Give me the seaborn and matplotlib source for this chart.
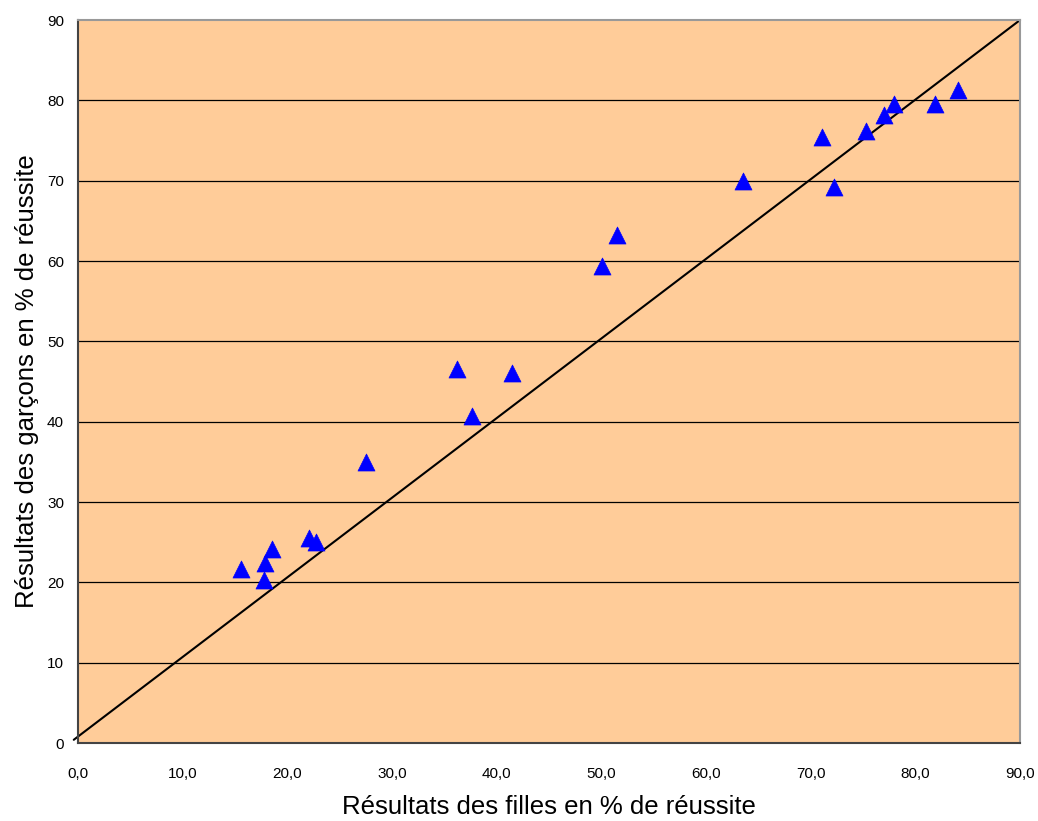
import matplotlib
matplotlib.use("Agg")
import matplotlib.pyplot as plt
import seaborn as sns
import pandas as pd

filles = [15.6, 17.9, 17.8, 18.5, 22.1, 22.7, 27.5, 36.2, 37.6, 41.5,
          50.1, 51.5, 63.5, 71.1, 72.2, 75.3, 77.0, 78.0, 81.9, 84.1]
garcons = [21.7, 22.4, 20.3, 24.2, 25.5, 25.0, 35.0, 46.6, 40.7, 46.1,
           59.4, 63.3, 70.0, 75.5, 69.2, 76.2, 78.2, 79.6, 79.6, 81.3]
x_ticks = [0, 10, 20, 30, 40, 50, 60, 70, 80, 90]
y_ticks = [0, 10, 20, 30, 40, 50, 60, 70, 80, 90]
diag_x = [-0.4, 90]
diag_y = [0.4, 90]

df = pd.DataFrame({"filles": filles, "garcons": garcons})

sns.set_style("white")
plt.rcParams["font.family"] = ["Liberation Sans", "DejaVu Sans"]

fig = plt.figure(figsize=(10.38, 8.21), dpi=100)
ax = fig.add_axes([0.0751, 0.095, 0.9076, 0.8806])
ax.set_facecolor("#FFCC99")

for yv in y_ticks[1:-1]:
    ax.axhline(yv, color="black", lw=0.9, zorder=1)

ax.plot(diag_x, diag_y, color="black", lw=1.5, zorder=2, clip_on=False)

sns.scatterplot(data=df, x="filles", y="garcons", marker="^", s=150,
                color="#0000FF", edgecolor="#0000FF", linewidth=0.5,
                ax=ax, zorder=3)

ax.set_xlim(0, 90)
ax.set_ylim(0, 90)
ax.set_xticks(x_ticks)
ax.set_xticklabels([f"{v:.1f}".replace(".", ",") for v in x_ticks], fontsize=11)
ax.set_yticks(y_ticks)
ax.set_yticklabels([str(v) for v in y_ticks], fontsize=11)
ax.tick_params(axis="both", direction="out", length=5, width=1,
               color="#333333", labelcolor="black")
ax.tick_params(axis="x", pad=12)
ax.tick_params(axis="y", pad=5)

for side in ["left", "bottom"]:
    ax.spines[side].set_color("#444444")
    ax.spines[side].set_linewidth(1.5)
for side in ["top", "right"]:
    ax.spines[side].set_visible(True)
    ax.spines[side].set_color("#999999")
    ax.spines[side].set_linewidth(1.5)

ax.set_xlabel("Résultats des filles en % de réussite", fontsize=18.5,
              labelpad=10, color="black")
ax.set_ylabel("Résultats des garçons en % de réussite", fontsize=18.5,
              labelpad=6, color="black")

fig.savefig("out.png", dpi=100)
